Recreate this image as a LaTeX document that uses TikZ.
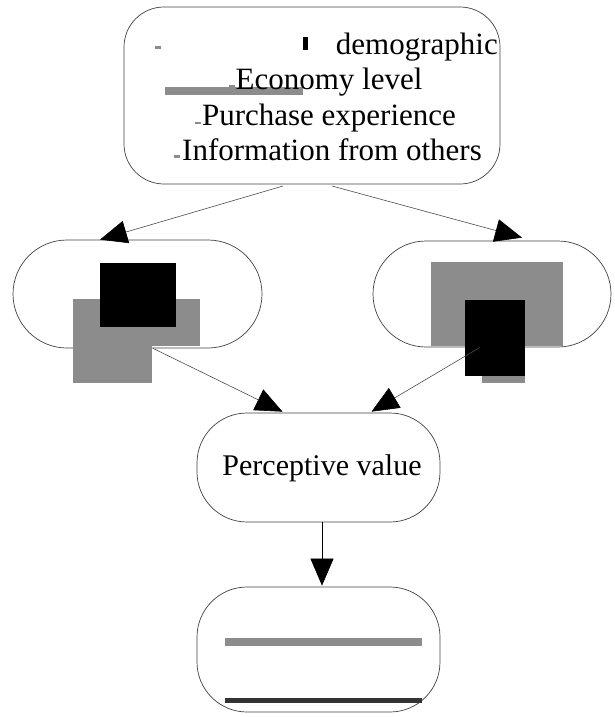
\documentclass[tikz,border=0pt]{standalone}
\usepackage{fontspec}
\setmainfont{Liberation Serif}
\usetikzlibrary{arrows.meta,calc}
\begin{document}
\begin{tikzpicture}[x=1pt,y=-1pt,
  box/.style={draw=black!75,line width=0.7pt,inner sep=0pt},
  conn/.style={draw=black!70,line width=0.6pt,-{Triangle[length=27pt,width=23pt,color=black]}},
  txt/.style={font=\fontsize{31}{36}\selectfont,inner sep=0pt,anchor=base},
  blot/.style={fill=black!45},
  ink/.style={fill=black}]
\useasboundingbox (0,0) rectangle (614,717);
% boxes
\node[box,minimum width=376pt,minimum height=177pt,rounded corners=40pt] (top) at (312,95.5) {};
\node[box,minimum width=249pt,minimum height=108pt,rounded corners=54pt] (lb) at (137.5,294) {};
\node[box,minimum width=238pt,minimum height=106pt,rounded corners=53pt] (rb) at (492,294) {};
\node[box,minimum width=243pt,minimum height=109pt,rounded corners=50pt] (pv) at (318.5,467.5) {};
\node[box,minimum width=243pt,minimum height=125pt,rounded corners=50pt] (bt) at (318.5,649.5) {};
% blots in the top box
\fill[blot] (165,87) rectangle (303,95);
\fill[ink] (303,37) rectangle (308,50);
\fill[blot] (155,46) rectangle (161,49);
\fill[blot] (229,85) rectangle (235,88);
\fill[blot] (195,122) rectangle (201,124);
\fill[blot] (174,155) rectangle (180,158);
% texts of top box
\node[txt,anchor=base east] (t1) at (498,55) {demographic};
\node[txt] (t2) at (329,89) {Economy level};
\node[txt] (t3) at (329,125) {Purchase experience};
\node[txt] (t4) at (332,160) {Information from others};
\node[txt,font=\fontsize{30}{36}\selectfont] (t5) at (322,475) {Perceptive value};
% blots in the left box
\fill[blot] (73,299) rectangle (200,346);
\fill[blot] (73,346) rectangle (152,383);
\fill[ink] (100,263) rectangle (176,327);
% blots in the right box
\fill[blot] (431,262) rectangle (563,346);
\fill[ink] (465,300) rectangle (525,376);
\fill[blot] (482,376) rectangle (525,383);
% blots in the bottom box
\fill[blot] (225,638) rectangle (422,646);
\fill[black!80] (225,698) rectangle (422,703);
% connectors
\coordinate (s1) at (283,186);
\coordinate (s2) at (332,186);
\draw[conn] (s1) -- ($(lb.north)+(-37.5,0)$);
\draw[conn] (s2) -- ($(rb.north)+(30,-3)$);
\draw[conn] ($(lb.south)+(15.5,0)$) -- ($(pv.north)+(-36,-1)$);
\draw[conn] ($(rb.south)+(-12,0)$) -- ($(pv.north)+(53,-1)$);
\draw[conn,draw=black] ($(pv.south)+(3.5,0)$) -- ($(bt.north)+(3.5,-1)$);
\end{tikzpicture}
\end{document}
